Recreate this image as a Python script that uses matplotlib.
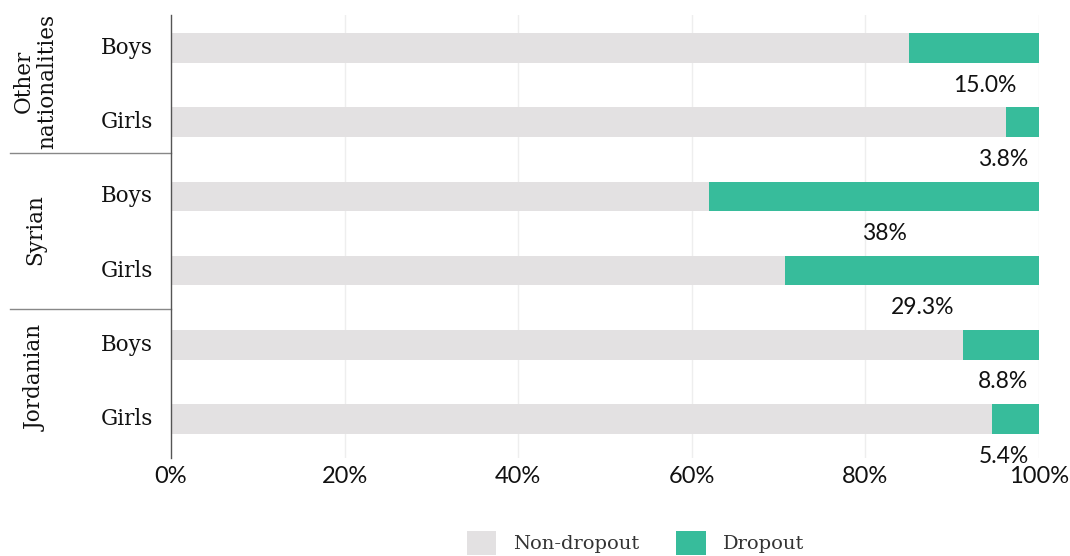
import matplotlib
matplotlib.use("Agg")
import matplotlib.pyplot as plt
from matplotlib.patches import Patch
from matplotlib.lines import Line2D

# Data
groups = ["Other\nnationalities", "Syrian", "Jordanian"]
genders = ["Boys", "Girls"]
dropout = [15.0, 3.8, 38.0, 29.3, 8.8, 5.4]
dropout_labels = ["15.0%", "3.8%", "38%", "29.3%", "8.8%", "5.4%"]
non_dropout = [100 - d for d in dropout]
x_ticks = [0, 20, 40, 60, 80, 100]
x_tick_labels = ["0%", "20%", "40%", "60%", "80%", "100%"]

GREY = "#e3e1e2"
GREEN = "#37bc9b"
SERIF = ["DejaVu Serif"]
SANS = ["Lato", "DejaVu Sans"]

W, H = 1070, 556
fig = plt.figure(figsize=(W / 100, H / 100), dpi=100)
ax = fig.add_axes([171 / W, 1 - 458 / H, (1039 - 171) / W, (458 - 15) / H])

ypos = list(range(len(dropout)))
bar_h = 0.40
ax.barh(ypos, non_dropout, height=bar_h, color=GREY, zorder=2)
ax.barh(ypos, dropout, left=non_dropout, height=bar_h, color=GREEN, zorder=2)

for y, d, lab in zip(ypos, dropout, dropout_labels):
    xc = min(100 - d / 2 + 1.2, 95.9)
    ax.text(xc, y + 0.5, lab, ha="center", va="center", fontsize=16.5,
            family=SANS, color="#111111")

ax.set_xlim(0, 100)
ax.set_ylim(5.526, -0.445)
ax.set_xticks(x_ticks)
ax.set_xticklabels(x_tick_labels, family=SANS, fontsize=17, color="#111111")
ax.tick_params(axis="x", length=0, pad=6)
ax.set_yticks([])
for x in x_ticks[1:]:
    ax.axvline(x, color="#eeeeee", lw=1, zorder=0)
for s in ["top", "right", "bottom"]:
    ax.spines[s].set_visible(False)
ax.spines["left"].set_color("#555555")
ax.spines["left"].set_linewidth(1)

# gender labels
for y, g in zip(ypos, genders * len(groups)):
    ax.text(-2.1, y, g, ha="right", va="center", fontsize=15.5,
            family=SERIF, color="#111111")

# group labels and separators
for i, grp in enumerate(groups):
    yc = i * 2 + 0.45
    ax.text(-15.6, yc, grp, ha="center", va="center", rotation=90,
            fontsize=15.5, family=SERIF, color="#111111", linespacing=1.05)
for ysep in [1.415, 3.52]:
    ax.add_line(Line2D([-18.55, 0], [ysep, ysep], color="#888888", lw=1,
                       clip_on=False))

handles = [Patch(facecolor=GREY, label="Non-dropout"),
           Patch(facecolor=GREEN, label="Dropout")]
leg = fig.legend(handles=handles, loc="center", bbox_to_anchor=(0.594, 0.024),
                 ncol=2, frameon=False, handlelength=1.5, handleheight=1.5,
                 columnspacing=1.9, handletextpad=0.9,
                 prop={"family": SERIF, "size": 14})
for t in leg.get_texts():
    t.set_color("#333333")

fig.savefig("out.png", dpi=100)
